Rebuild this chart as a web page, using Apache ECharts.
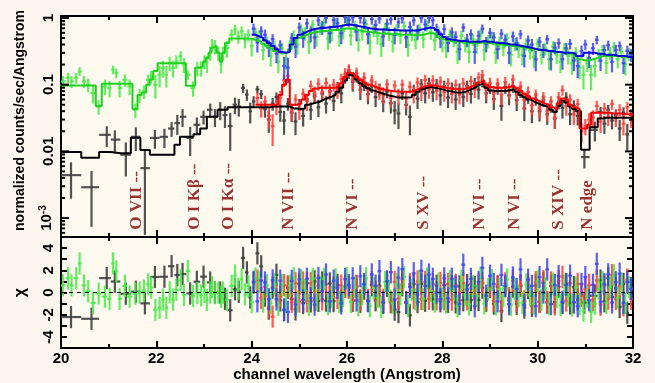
<!DOCTYPE html>
<html>
<head>
<meta charset="utf-8">
<script src="https://cdn.jsdelivr.net/npm/echarts@6/dist/echarts.min.js"></script>
<style>
  html, body { margin: 0; padding: 0; background: #fdf6ee; }
  #chart { width: 655px; height: 383px; }
</style>
</head>
<body>
<div id="chart"></div>
<script>
// Spectrum points: [wavelength, counts, model, fractional error (optional)]
const blackPts = [
  [20.21,0.0044,0.0098,0.25],[20.64,0.0029,0.0080,0.27],[20.96,0.0177,0.0098,0.62],[21.13,0.0150,0.0094,0.6],
  [21.36,0.0089,0.0094,0.5],[21.57,0.0165,0.016,0.4],[21.76,0.0056,0.0105,0.48],[21.97,0.0159,0.0089,0.56],
  [22.17,0.0165,0.0089,0.6],[22.32,0.022,0.0089,0.62],[22.44,0.0265,0.0126,0.7],[22.55,0.033,0.0165,0.6],
  [22.71,0.0159,0.0165,0.45],[22.85,0.025,0.018,0.4],[22.99,0.033,0.022,0.35],[23.13,0.042,0.033,0.3],
  [23.23,0.033,0.033,0.3],[23.34,0.042,0.042,0.3],[23.44,0.035,0.042,0.3],[23.55,0.024,0.046,0.3],
  [23.65,0.050,0.046,0.3],[23.73,0.047,0.046,0.3],[23.82,0.089,0.046,0.3],[23.90,0.071,0.046,0.3],
  [23.97,0.040,0.046,0.3],
  [24.04,0.056,0.046],[24.12,0.085,0.046],[24.20,0.072,0.046],[24.28,0.043,0.046],[24.36,0.030,0.046],
  [24.44,0.052,0.047],[24.52,0.065,0.047],[24.60,0.039,0.047],[24.68,0.029,0.047],[24.76,0.052,0.047],
  [24.84,0.038,0.044],[24.92,0.028,0.044],[25.00,0.051,0.043],[25.08,0.034,0.044],[25.16,0.060,0.050],
  [25.24,0.042,0.052],[25.32,0.067,0.054],[25.40,0.046,0.056],[25.48,0.073,0.060],[25.56,0.052,0.063],
  [25.64,0.079,0.066],[25.72,0.057,0.070],[25.80,0.091,0.078],[25.88,0.074,0.090],[25.96,0.131,0.115],
  [26.04,0.156,0.140],[26.12,0.111,0.135],[26.20,0.136,0.120],[26.28,0.084,0.105],[26.36,0.103,0.095],
  [26.44,0.072,0.088],[26.52,0.095,0.082],[26.60,0.065,0.078],[26.68,0.086,0.075],[26.76,0.056,0.072],
  [26.84,0.079,0.069],[26.92,0.053,0.067],[27.00,0.041,0.065],[27.08,0.037,0.064],[27.16,0.074,0.064],
  [27.24,0.050,0.064],[27.32,0.033,0.065],[27.40,0.083,0.070],[27.48,0.062,0.078],[27.56,0.101,0.085],
  [27.64,0.074,0.090],[27.72,0.105,0.092],[27.80,0.077,0.090],[27.88,0.101,0.088],[27.96,0.069,0.085],
  [28.04,0.095,0.082],[28.12,0.064,0.080],[28.20,0.089,0.078],[28.28,0.060,0.076],[28.36,0.086,0.076],
  [28.44,0.065,0.078],[28.52,0.095,0.082],[28.60,0.073,0.087],[28.68,0.104,0.093],[28.76,0.084,0.100],
  [28.84,0.116,0.105],[28.92,0.074,0.090],[29.00,0.092,0.082],[29.08,0.061,0.080],[29.16,0.090,0.080],
  [29.24,0.048,0.080],[29.32,0.092,0.081],[29.40,0.069,0.083],[29.48,0.096,0.085],[29.56,0.059,0.078],
  [29.64,0.080,0.070],[29.72,0.044,0.065],[29.80,0.066,0.060],[29.88,0.040,0.056],[29.96,0.061,0.053],
  [30.04,0.040,0.050],[30.12,0.058,0.048],[30.20,0.036,0.046],[30.28,0.048,0.042],[30.36,0.031,0.039],
  [30.44,0.054,0.048],[30.52,0.045,0.058],[30.60,0.064,0.054],[30.68,0.036,0.047],[30.76,0.048,0.043],
  [30.84,0.034,0.040],[30.98,0.0082,0.0106,0.25],[31.20,0.021,0.023,0.3],[31.32,0.039,0.031],[31.40,0.026,0.032],
  [31.48,0.042,0.032],[31.56,0.029,0.032],[31.64,0.035,0.032],[31.72,0.022,0.032],[31.80,0.038,0.032],
  [31.88,0.018,0.032],[31.96,0.035,0.032]
];

const redPts = [
  [24.12,0.063,0.050],[24.20,0.044,0.050],[24.28,0.056,0.050],[24.36,0.034,0.050],[24.44,0.024,0.050],
  [24.52,0.047,0.050],[24.60,0.064,0.070],[24.68,0.116,0.100],[24.76,0.136,0.120],[24.84,0.040,0.050],
  [24.92,0.060,0.050],[25.00,0.042,0.052],[25.08,0.073,0.060],[25.16,0.057,0.070],[25.24,0.096,0.080],
  [25.32,0.073,0.087],[25.40,0.103,0.090],[25.48,0.077,0.090],[25.56,0.106,0.090],[25.64,0.080,0.090],
  [25.72,0.100,0.090],[25.80,0.084,0.095],[25.88,0.121,0.105],[25.96,0.146,0.130],[26.04,0.166,0.150],
  [26.12,0.121,0.145],[26.20,0.149,0.130],[26.28,0.099,0.118],[26.36,0.127,0.108],[26.44,0.084,0.100],
  [26.52,0.116,0.095],[26.60,0.092,0.090],[26.68,0.080,0.087],[26.76,0.071,0.084],[26.84,0.101,0.082],
  [26.92,0.064,0.080],[27.00,0.097,0.079],[27.08,0.068,0.078],[27.16,0.100,0.078],[27.24,0.062,0.078],
  [27.32,0.093,0.079],[27.40,0.072,0.082],[27.48,0.108,0.087],[27.56,0.079,0.092],[27.64,0.118,0.096],
  [27.72,0.085,0.098],[27.80,0.115,0.097],[27.88,0.081,0.095],[27.96,0.111,0.092],[28.04,0.077,0.090],
  [28.12,0.104,0.088],[28.20,0.073,0.086],[28.28,0.099,0.085],[28.36,0.071,0.085],[28.44,0.105,0.087],
  [28.52,0.077,0.090],[28.60,0.113,0.095],[28.68,0.087,0.100],[28.76,0.127,0.108],[28.84,0.139,0.115],
  [28.92,0.084,0.100],[29.00,0.105,0.092],[29.08,0.074,0.090],[29.16,0.103,0.090],[29.24,0.071,0.090],
  [29.32,0.109,0.091],[29.40,0.082,0.093],[29.48,0.119,0.095],[29.56,0.072,0.088],[29.64,0.093,0.080],
  [29.72,0.059,0.073],[29.80,0.078,0.067],[29.88,0.049,0.062],[29.96,0.071,0.058],[30.04,0.044,0.055],
  [30.12,0.065,0.052],[30.20,0.040,0.050],[30.28,0.056,0.046],[30.36,0.032,0.043],[30.44,0.065,0.052],
  [30.52,0.083,0.062],[30.60,0.048,0.058],[30.68,0.060,0.050],[30.76,0.036,0.046],[30.84,0.051,0.043],
  [30.92,0.020,0.022,0.3],[31.00,0.024,0.022,0.3],[31.08,0.030,0.025,0.3],[31.16,0.032,0.038],[31.24,0.048,0.038],
  [31.32,0.028,0.038],[31.40,0.044,0.038],[31.48,0.033,0.038],[31.56,0.051,0.037],[31.64,0.032,0.037],
  [31.72,0.042,0.037],[31.80,0.026,0.036],[31.88,0.046,0.036],[31.96,0.031,0.036]
];

const greenPts = [
  [20.04,0.112,0.097],[20.15,0.127,0.097],[20.22,0.112,0.097],[20.32,0.127,0.097],[20.39,0.158,0.097],
  [20.48,0.112,0.097],[20.57,0.100,0.097],[20.67,0.075,0.097],[20.79,0.047,0.048],[20.92,0.094,0.103],
  [21.02,0.089,0.103],[21.09,0.168,0.103],[21.16,0.150,0.103],[21.23,0.089,0.103],[21.34,0.118,0.103],
  [21.44,0.094,0.103],[21.56,0.042,0.043],[21.65,0.070,0.070],[21.74,0.079,0.076],[21.83,0.118,0.100],
  [21.89,0.133,0.120],[21.98,0.100,0.160],[22.07,0.141,0.210],[22.14,0.178,0.210],[22.21,0.141,0.210],
  [22.28,0.211,0.210],[22.35,0.178,0.210],[22.42,0.223,0.210],[22.51,0.266,0.210],[22.58,0.199,0.210],
  [22.66,0.141,0.096],[22.77,0.089,0.096],[22.86,0.178,0.180],[22.94,0.178,0.190],[23.01,0.223,0.220],
  [23.06,0.210,0.250],[23.13,0.300,0.300],[23.17,0.400,0.360],[23.23,0.375,0.380],[23.30,0.300,0.300],
  [23.36,0.200,0.220],[23.40,0.300,0.300],[23.48,0.355,0.420],[23.58,0.560,0.490],[23.65,0.670,0.490],
  [23.72,0.530,0.490],[23.79,0.630,0.490],[23.86,0.470,0.490],[23.93,0.560,0.490],
  [24.00,0.38,0.48],[24.08,0.60,0.46],[24.16,0.54,0.44],[24.24,0.33,0.41],[24.32,0.44,0.38],
  [24.40,0.27,0.35],[24.48,0.38,0.32],[24.56,0.22,0.30],[24.64,0.35,0.30],[24.72,0.24,0.30],
  [24.80,0.39,0.34],[24.88,0.55,0.42],[24.96,0.40,0.50],[25.04,0.67,0.53],[25.12,0.59,0.56],
  [25.20,0.43,0.59],[25.28,0.79,0.61],[25.36,0.52,0.62],[25.44,0.71,0.63],[25.52,0.83,0.64],
  [25.60,0.49,0.65],[25.68,0.60,0.66],[25.76,0.85,0.66],[25.84,0.53,0.67],[25.92,0.64,0.69],
  [26.00,0.92,0.70],[26.08,0.55,0.69],[26.16,0.75,0.67],[26.24,0.47,0.65],[26.32,0.61,0.63],
  [26.40,0.81,0.62],[26.48,0.43,0.61],[26.56,0.66,0.60],[26.64,0.54,0.59],[26.72,0.40,0.58],
  [26.80,0.71,0.58],[26.88,0.59,0.57],[26.96,0.44,0.57],[27.04,0.67,0.57],[27.12,0.54,0.56],
  [27.20,0.75,0.56],[27.28,0.40,0.56],[27.36,0.58,0.55],[27.44,0.47,0.55],[27.52,0.69,0.55],
  [27.60,0.49,0.57],[27.68,0.77,0.59],[27.76,0.61,0.59],[27.84,0.46,0.57],[27.92,0.62,0.52],
  [28.00,0.42,0.48],[28.08,0.36,0.46],[28.16,0.56,0.45],[28.24,0.47,0.44],[28.32,0.31,0.44],
  [28.40,0.54,0.43],[28.48,0.41,0.43],[28.56,0.31,0.42],[28.64,0.48,0.42],[28.72,0.39,0.42],
  [28.80,0.57,0.43],[28.88,0.33,0.43],[28.96,0.45,0.42],[29.04,0.52,0.41],[29.12,0.30,0.40],
  [29.20,0.43,0.40],[29.28,0.36,0.39],[29.36,0.50,0.39],[29.44,0.28,0.38],[29.52,0.41,0.38],
  [29.60,0.34,0.37],[29.68,0.28,0.36],[29.76,0.41,0.35],[29.84,0.32,0.34],[29.92,0.26,0.34],
  [30.00,0.41,0.33],[30.08,0.28,0.33],[30.16,0.35,0.32],[30.24,0.24,0.32],[30.32,0.37,0.31],
  [30.40,0.28,0.31],[30.48,0.22,0.30],[30.56,0.35,0.30],[30.64,0.27,0.29],[30.72,0.21,0.29],
  [30.80,0.30,0.27],[30.88,0.18,0.24],[30.96,0.14,0.23],[31.04,0.21,0.23],[31.12,0.14,0.24],
  [31.20,0.19,0.25],[31.28,0.28,0.26],[31.36,0.33,0.27],[31.44,0.21,0.27],[31.52,0.30,0.27],
  [31.60,0.37,0.27],[31.68,0.24,0.27],[31.76,0.31,0.26],[31.84,0.20,0.26],[31.92,0.29,0.26]
];

const bluePts = [
  [24.04,0.69,0.56],[24.12,0.43,0.53],[24.20,0.63,0.50],[24.28,0.56,0.46],[24.36,0.36,0.42],
  [24.44,0.48,0.38],[24.52,0.29,0.34],[24.60,0.39,0.31],[24.68,0.19,0.30],[24.76,0.18,0.31],
  [24.84,0.50,0.40],[24.92,0.37,0.50],[25.00,0.72,0.56],[25.08,0.50,0.60],[25.16,0.83,0.64],
  [25.24,0.59,0.67],[25.32,0.51,0.69],[25.40,0.92,0.70],[25.48,0.73,0.71],[25.56,1.00,0.72],
  [25.64,0.59,0.73],[25.72,0.93,0.74],[25.80,0.83,0.75],[25.88,0.59,0.77],[25.96,1.02,0.79],
  [26.04,0.93,0.80],[26.12,1.02,0.78],[26.20,0.63,0.76],[26.28,1.00,0.74],[26.36,0.85,0.72],
  [26.44,0.57,0.70],[26.52,0.96,0.69],[26.60,0.78,0.68],[26.68,0.98,0.67],[26.76,0.53,0.67],
  [26.84,0.82,0.66],[26.92,0.95,0.66],[27.00,0.56,0.66],[27.08,0.86,0.65],[27.16,0.98,0.65],
  [27.24,0.51,0.65],[27.32,0.73,0.65],[27.40,0.92,0.65],[27.48,0.63,0.66],[27.56,1.00,0.68],
  [27.64,0.80,0.70],[27.72,1.00,0.72],[27.80,0.92,0.71],[27.88,0.66,0.66],[27.96,0.49,0.57],
  [28.04,0.68,0.52],[28.12,0.42,0.48],[28.20,0.61,0.47],[28.28,0.52,0.46],[28.36,0.34,0.45],
  [28.44,0.72,0.45],[28.52,0.47,0.44],[28.60,0.57,0.44],[28.68,0.31,0.44],[28.76,0.54,0.44],
  [28.84,0.69,0.45],[28.92,0.41,0.44],[29.00,0.60,0.44],[29.08,0.51,0.43],[29.16,0.34,0.42],
  [29.24,0.58,0.42],[29.32,0.47,0.41],[29.40,0.30,0.40],[29.48,0.53,0.40],[29.56,0.42,0.39],
  [29.64,0.57,0.38],[29.72,0.27,0.37],[29.80,0.46,0.36],[29.88,0.40,0.35],[29.96,0.24,0.34],
  [30.04,0.44,0.33],[30.12,0.33,0.33],[30.20,0.48,0.32],[30.28,0.24,0.32],[30.36,0.36,0.31],
  [30.44,0.42,0.31],[30.52,0.24,0.30],[30.60,0.35,0.30],[30.68,0.41,0.30],[30.76,0.23,0.29],
  [30.84,0.19,0.27],[30.92,0.32,0.27],[31.00,0.40,0.30],[31.08,0.25,0.30],[31.16,0.35,0.30],
  [31.24,0.47,0.29],[31.32,0.23,0.29],[31.40,0.33,0.28],[31.48,0.39,0.28],[31.56,0.22,0.28],
  [31.64,0.33,0.27],[31.72,0.38,0.27],[31.80,0.21,0.27],[31.88,0.32,0.26],[31.96,0.28,0.26]
];

// Line identifications
const lineNames = ['O VII --', 'O I K\u03b2 --', 'O I K\u03b1 --', 'N VII --', 'N VI --', 'S XV --', 'N VI --', 'N VI --', 'S XIV --', 'N edge'];
const lineWaves = [21.59, 22.81, 23.51, 24.77, 26.12, 27.60, 28.79, 29.52, 30.43, 31.04];

// Axis ticks
const xTicksLabel = [20, 22, 24, 26, 28, 30, 32];
const logTicks = [6e-4, 7e-4, 8e-4, 9e-4, 1e-3, 2e-3, 3e-3, 4e-3, 5e-3, 6e-3, 7e-3, 8e-3, 9e-3,
  1e-2, 2e-2, 3e-2, 4e-2, 5e-2, 6e-2, 7e-2, 8e-2, 9e-2, 0.1, 0.2, 0.3, 0.4, 0.5, 0.6, 0.7, 0.8, 0.9, 1];
const logLabels = { '0': '1', '-1': '0.1', '-2': '0.01', '-3': '{b|10}{s|-3}' };

const X_MIN = 20, X_MAX = 32;
const Y_MIN = 5.2e-4, Y_MAX = 1.07;
const DEF_ERR = 0.24;
const LABEL_BASE = 6.7e-4;

const groups = [
  { pts: blackPts, data: 'rgba(64,64,64,0.9)', model: '#000000' },
  { pts: redPts, data: 'rgba(255,60,60,0.85)', model: '#f00000' },
  { pts: greenPts, data: 'rgba(70,235,70,0.85)', model: '#20d020' },
  { pts: bluePts, data: 'rgba(60,70,240,0.85)', model: '#0000dd' }
];

function bins(points) {
  return points.map((p, i) => {
    const prev = points[i - 1], next = points[i + 1];
    const xl = prev ? (prev[0] + p[0]) / 2 : p[0] - (next[0] - p[0]) / 2;
    const xr = next ? (next[0] + p[0]) / 2 : p[0] + (p[0] - prev[0]) / 2;
    const sigma = (p[3] !== undefined ? p[3] : DEF_ERR) * p[2];
    return { x: p[0], y: p[1], m: p[2], sigma, xl, xr };
  });
}

function crossItem(params, api) {
  const c = api.coord([api.value(0), api.value(1)]);
  const lo = api.coord([api.value(0), api.value(2)]);
  const hi = api.coord([api.value(0), api.value(3)]);
  const l = api.coord([api.value(4), api.value(1)]);
  const r = api.coord([api.value(5), api.value(1)]);
  const style = { stroke: api.visual('color'), lineWidth: 2.2 };
  return {
    type: 'group',
    children: [
      { type: 'line', shape: { x1: c[0], y1: lo[1], x2: c[0], y2: hi[1] }, style },
      { type: 'line', shape: { x1: l[0], y1: c[1], x2: r[0], y2: c[1] }, style }
    ]
  };
}

function logTickItem(params, api) {
  const v = api.value(1);
  const lg = Math.log10(v);
  const len = Math.abs(lg - Math.round(lg)) < 1e-6 ? 8 : 4;
  const a = api.coord([X_MIN, v]);
  const b = api.coord([X_MAX, v]);
  const style = { stroke: '#000', lineWidth: 2 };
  return {
    type: 'group',
    children: [
      { type: 'line', shape: { x1: a[0], y1: a[1], x2: a[0] + len, y2: a[1] }, style },
      { type: 'line', shape: { x1: b[0] - len, y1: b[1], x2: b[0], y2: b[1] }, style }
    ]
  };
}

const dataSeries = [], residSeries = [], modelSeries = [];
groups.forEach((g, gi) => {
  const b = bins(g.pts);
  dataSeries.push({
    type: 'custom', xAxisIndex: 0, yAxisIndex: 0, clip: true, z: 3,
    itemStyle: { color: g.data },
    renderItem: crossItem,
    encode: { x: 0, y: 1 },
    data: b.map(d => [d.x, d.y, Math.max(d.y - d.sigma, 1e-6), d.y + d.sigma, d.xl, d.xr])
  });
  residSeries.push({
    type: 'custom', xAxisIndex: 2, yAxisIndex: 2, clip: true, z: 3,
    itemStyle: { color: g.data },
    renderItem: crossItem,
    encode: { x: 0, y: 1 },
    data: b.map(d => {
      const chi = (d.y - d.m) / d.sigma;
      return [d.x, chi, chi - 1, chi + 1, d.xl, d.xr];
    }),
    markLine: gi === 0 ? {
      silent: true, symbol: 'none', label: { show: false },
      lineStyle: { color: '#000', width: 1, type: [4, 4] },
      data: [{ yAxis: 0 }]
    } : undefined
  });
  modelSeries.push({
    type: 'line', xAxisIndex: 0, yAxisIndex: 0, z: 4,
    showSymbol: false, symbol: 'none',
    lineStyle: { color: g.model, width: 2 },
    data: b.flatMap(d => [[d.xl, d.m], [d.xr, d.m]])
  });
});

const axisFont = { fontFamily: 'Liberation Sans', fontWeight: 'bold', fontSize: 15, color: '#000' };
const axisLine = { show: true, onZero: false, lineStyle: { color: '#000', width: 2 } };

function xAxisDef(grid, pos, labels) {
  return {
    type: 'value', gridIndex: grid, position: pos, min: X_MIN, max: X_MAX, interval: 2,
    axisLine,
    axisTick: { show: true, inside: true, length: 7, lineStyle: { width: 2, color: '#000' } },
    minorTick: { show: true, splitNumber: 2, length: 4, lineStyle: { width: 2, color: '#000' } },
    splitLine: { show: false },
    axisLabel: labels ? Object.assign({ show: true, margin: 3,
      formatter: v => xTicksLabel.includes(v) ? String(v) : '' }, axisFont) : { show: false }
  };
}

function residAxis(pos, labels) {
  return {
    type: 'value', gridIndex: 1, position: pos, min: -5, max: 5, interval: 1,
    axisLine,
    axisTick: { show: true, inside: true, length: 6, lineStyle: { width: 2, color: '#000' } },
    splitLine: { show: false },
    axisLabel: labels ? Object.assign({ show: true, rotate: 90, margin: 5,
      formatter: v => (v % 2 === 0 && Math.abs(v) < 5) ? String(v) : '' }, axisFont) : { show: false },
    name: labels ? '\u03c7' : '', nameLocation: 'middle', nameRotate: 90, nameGap: 32,
    nameTextStyle: Object.assign({}, axisFont, { fontSize: 16 })
  };
}

function logAxis(pos, labels) {
  return {
    type: 'log', logBase: 10, gridIndex: 0, position: pos, min: Y_MIN, max: Y_MAX,
    axisLine,
    axisTick: { show: false },
    splitLine: { show: false },
    axisLabel: labels ? Object.assign({ show: true, rotate: 90, margin: 5,
      showMinLabel: false, showMaxLabel: false,
      formatter: v => {
        const lg = Math.log10(v);
        const r = Math.round(lg);
        return Math.abs(lg - r) < 1e-6 && logLabels[String(r)] ? logLabels[String(r)] : '';
      },
      rich: {
        b: Object.assign({}, axisFont),
        s: Object.assign({}, axisFont, { fontSize: 10, padding: [0, 0, 8, 0] })
      } }, axisFont) : { show: false },
    name: labels ? 'normalized counts/sec/Angstrom' : '', nameLocation: 'middle', nameRotate: 90, nameGap: 34,
    nameTextStyle: Object.assign({}, axisFont, { fontSize: 14, padding: [0, 0, 0, 12] })
  };
}

const chart = echarts.init(document.getElementById('chart'), null, { renderer: 'canvas' });
chart.setOption({
  animation: false,
  backgroundColor: '#fdf6ee',
  grid: [
    { left: 61, top: 16, width: 572, height: 221, show: true, backgroundColor: '#fffaf0', borderWidth: 0 },
    { left: 61, top: 237, width: 572, height: 112, show: true, backgroundColor: '#fffaf0', borderWidth: 0 }
  ],
  xAxis: [
    xAxisDef(0, 'bottom', false),
    xAxisDef(0, 'top', false),
    Object.assign(xAxisDef(1, 'bottom', true), {
      name: 'channel wavelength (Angstrom)', nameLocation: 'middle', nameGap: 18,
      nameTextStyle: Object.assign({}, axisFont, { fontSize: 15 })
    }),
    xAxisDef(1, 'top', false)
  ],
  yAxis: [
    logAxis('left', true),
    logAxis('right', false),
    residAxis('left', true),
    residAxis('right', false)
  ],
  series: [
    {
      type: 'scatter', xAxisIndex: 0, yAxisIndex: 0, z: 2, symbolSize: 0, silent: true,
      data: lineWaves.map((w, i) => [w, LABEL_BASE, lineNames[i]]),
      label: {
        show: true, position: 'inside', rotate: 90, align: 'left', verticalAlign: 'middle',
        formatter: p => p.data[2],
        fontFamily: 'Liberation Serif', fontWeight: 'bold', fontSize: 17, color: '#800000'
      }
    },
    {
      type: 'custom', xAxisIndex: 0, yAxisIndex: 0, z: 6, silent: true,
      renderItem: logTickItem,
      encode: { x: 0, y: 1 },
      data: logTicks.map(v => [X_MIN, v])
    },
    ...dataSeries,
    ...residSeries,
    ...modelSeries
  ]
});
</script>
</body>
</html>
